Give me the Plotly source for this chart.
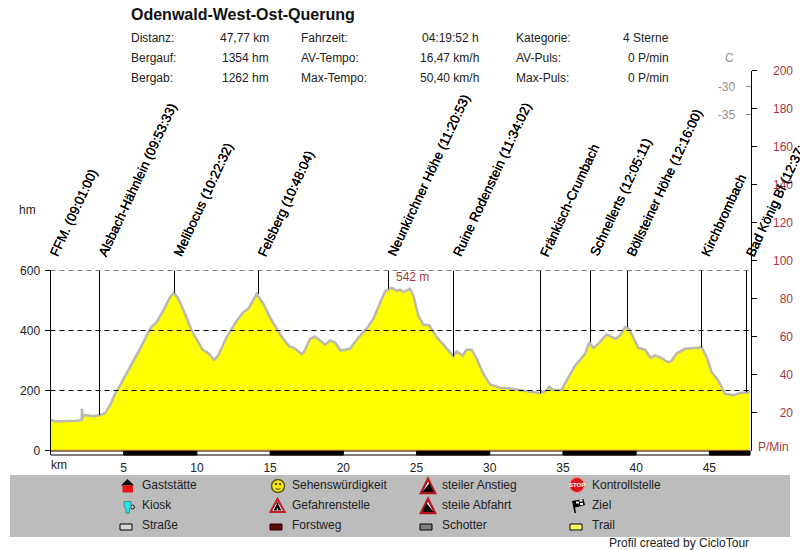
import plotly.graph_objects as go

FONT = "Liberation Sans"
TEXT = "#222222"
RED = "#a5373c"
GREY = "#8f8f8f"

title = "Odenwald-West-Ost-Querung"

# Trip summary: (label, value) per column, three rows each
stats_col1 = [("Distanz:", "47,77 km"), ("Bergauf:", "1354 hm"), ("Bergab:", "1262 hm")]
stats_col2 = [("Fahrzeit:", "04:19:52 h"), ("AV-Tempo:", "16,47 km/h"), ("Max-Tempo:", "50,40 km/h")]
stats_col3 = [("Kategorie:", "4 Sterne"), ("AV-Puls:", "0 P/min"), ("Max-Puls:", "0 P/min")]

# Elevation profile
profile_km = [
    0, 0.31, 1.79, 2.13, 2.15, 2.2, 2.36, 2.93, 3.38, 3.72, 4.06, 4.41, 4.75, 5.2, 5.66, 6.11,
    6.57, 6.91, 7.25, 7.71, 8.16, 8.44, 8.73, 9.19, 9.64, 9.98, 10.39, 10.78, 11.17, 11.46,
    12.03, 12.72, 13.17, 13.51, 14.08, 14.54, 14.99, 15.45, 15.9, 16.31, 16.63, 17.15, 17.31,
    17.72, 18.06, 18.41, 18.75, 19.09, 19.43, 19.82, 20.45, 21.02, 21.59, 22.05, 22.5, 22.85,
    23.3, 23.64, 23.87, 24.1, 24.55, 24.78, 25.12, 25.46, 25.87, 26.37, 26.94, 27.51, 27.74,
    28.15, 28.42, 28.77, 29.11, 29.56, 30.02, 30.7, 31.38, 32.52, 33.43, 33.89, 34.07, 34.34,
    34.91, 35.25, 35.82, 36.51, 36.8, 37.08, 37.42, 37.99, 38.56, 38.9, 39.24, 39.51, 40.15,
    40.6, 40.99, 41.29, 41.63, 42.2, 42.43, 42.77, 43.34, 43.91, 44.48, 44.82, 45.16, 45.61,
    46.07, 46.64, 47.09, 47.77,
]
profile_elev = [
    102, 97, 99, 102, 139, 111, 118, 114, 118, 124, 150, 189, 217, 257, 294, 339,
    383, 413, 428, 467, 511, 526, 506, 456, 400, 372, 336, 324, 302, 317,
    378, 433, 461, 472, 522, 489, 444, 406, 372, 347, 342, 322, 328,
    372, 380, 367, 353, 367, 361, 333, 339, 376, 406, 439, 489, 530,
    542, 533, 536, 528, 539, 517, 450, 420, 417, 378, 347, 314, 331,
    317, 336, 336, 306, 256, 220, 209, 207, 198, 191, 200, 213, 202,
    202, 233, 283, 322, 361, 342, 356, 387, 372, 383, 411, 406, 342,
    336, 309, 317, 311, 294, 300, 324, 339, 342, 344, 311, 261, 233,
    189, 184, 192, 194,
]

# Waypoints along the route
station_names = [
    "FFM. (09:01:00)", "Alsbach-Hähnlein (09:53:33)", "Melibocus (10:22:32)",
    "Felsberg (10:48:04)", "Neunkirchner Höhe (11:20:53)", "Ruine Rodenstein (11:34:02)",
    "Fränkisch-Crumbach", "Schnellerts (12:05:11)", "Böllsteiner Höhe (12:16:00)",
    "Kirchbrombach", "Bad König Bf (12:37:",
]
station_km = [0, 3.347, 8.469, 14.207, 23.086, 27.525, 33.467, 36.882, 39.409, 44.464, 47.537]
station_elev = [102, 118, 526, 522, 539, 314, 191, 361, 411, 344, 194]

# Surface strip under the profile (black sections on white)
surface_start = [5, 15, 25, 35, 45]
surface_end = [10, 20, 30, 40, 47.77]

elev_ticks = [0, 200, 400, 600]
grid_levels = [200, 400, 600]
km_ticks = [5, 10, 15, 20, 25, 30, 35, 40, 45]
pulse_ticks = [20, 40, 60, 80, 100, 120, 140, 160, 180, 200]
temp_ticks = [-30, -35]
temp_labels = ["-30", "-35"]

peak_label = "542 m"


def fx(px):
    return px / 800


def fy(py):
    return 1 - py / 550


def poly(points, fill, line=None, width=1):
    path = "M" + " L".join(f"{fx(x):.5f},{fy(y):.5f}" for x, y in points) + " Z"
    return dict(type="path", xref="paper", yref="paper", path=path, fillcolor=fill,
                line=dict(color=line or fill, width=width if line else 0), layer="above")


def rect(x0, y0, x1, y1, fill, line=None, width=1):
    return dict(type="rect", xref="paper", yref="paper", x0=fx(x0), x1=fx(x1), y0=fy(y0), y1=fy(y1),
                fillcolor=fill, line=dict(color=line or fill, width=width if line else 0), layer="above")


def circle(cx, cy, r, fill, line=None, width=1):
    return dict(type="circle", xref="paper", yref="paper", x0=fx(cx - r), x1=fx(cx + r),
                y0=fy(cy - r), y1=fy(cy + r), fillcolor=fill,
                line=dict(color=line or fill, width=width if line else 0), layer="above")


def label(px, py, text, size=12, color=TEXT, anchor="left", bold=False):
    return dict(xref="paper", yref="paper", x=fx(px), y=fy(py), text=f"<b>{text}</b>" if bold else text,
                showarrow=False, xanchor=anchor, yanchor="middle", borderpad=0,
                font=dict(family=FONT, size=size, color=color))


fig = go.Figure()

# Filled profile
fig.add_trace(go.Scatter(x=profile_km, y=profile_elev, mode="lines", fill="tozeroy",
                         fillcolor="#ffff00", line=dict(color="#b9b9ad", width=2.5),
                         hoverinfo="skip", showlegend=False))

# Horizontal guides run over the fill
for level in grid_levels:
    fig.add_trace(go.Scatter(x=[0, 47.81], y=[level, level], mode="lines",
                             line=dict(color="#000000", width=1, dash="5px,4px"),
                             hoverinfo="skip", showlegend=False))

# Waypoint drop lines from the top guide to the profile
for km, elev in zip(station_km, station_elev):
    fig.add_trace(go.Scatter(x=[km, km], y=[600, elev], mode="lines",
                             line=dict(color="#000000", width=1),
                             hoverinfo="skip", showlegend=False))

# Empty traces keep the secondary axes on the page
for axis in ("y2", "y3", "y4"):
    fig.add_trace(go.Scatter(x=[None], y=[None], yaxis=axis, hoverinfo="skip", showlegend=False))

shapes = []
# Surface strip
shapes.append(dict(type="rect", xref="x", yref="paper", x0=0, x1=47.81, y0=fy(455), y1=fy(451),
                   fillcolor="#ffffff", line=dict(color="#000000", width=1), layer="above"))
for a, b in zip(surface_start, surface_end):
    shapes.append(dict(type="rect", xref="x", yref="paper", x0=a, x1=b, y0=fy(455), y1=fy(451),
                       fillcolor="#000000", line=dict(color="#000000", width=1), layer="above"))
# Base line of the profile and the extended left axis
shapes.append(dict(type="line", xref="x", yref="y", x0=0, x1=47.81, y0=0, y1=0,
                   line=dict(color="#d9730d", width=1.5), layer="above"))
shapes.append(dict(type="line", xref="paper", yref="paper", x0=fx(50.5), x1=fx(50.5), y0=fy(270), y1=fy(455),
                   line=dict(color="#000000", width=1), layer="above"))

# Legend panel
shapes.append(rect(10, 475, 790, 537, "#bcbcbc"))
# Gaststätte
shapes.append(poly([(121, 485.5), (127.5, 479), (134, 485.5)], "#000000"))
shapes.append(rect(122.5, 485.5, 133, 492.5, "#ee1111"))
# Kiosk
shapes.append(circle(132.5, 507, 2, "#bcbcbc", "#222222", 1))
shapes.append(poly([(124, 501.5), (131, 501.5), (131, 507), (129.5, 508.5), (129.5, 513), (126, 513), (126, 508.5), (124, 507)],
                   "#2fe0e8", "#2f6f74", 0.7))
# Sehenswürdigkeit
shapes.append(circle(278, 486, 6.5, "#f5e61c", "#5c5c10", 1.5))
shapes.append(circle(276, 484, 0.9, "#000000"))
shapes.append(circle(280, 484, 0.9, "#000000"))
shapes.append(poly([(274.5, 487.5), (276.5, 489.5), (279.5, 489.5), (281.5, 487.5), (279.5, 488.7), (276.5, 488.7)], "#000000"))
# Warning triangles
shapes.append(poly([(270.5, 512), (277.5, 499), (284.5, 512)], "#ffffff", "#c8202a", 2.2))
shapes.append(rect(276.6, 502.5, 278.4, 508, "#000000"))
shapes.append(poly([(273.5, 510.5), (276.5, 505), (278.5, 505), (281.5, 510.5)], "#000000"))
shapes.append(rect(276.9, 508.5, 278.1, 510.5, "#ffffff"))
for tx, ty, top_x in [(428, 486, 1), (428, 506, -1)]:
    shapes.append(poly([(tx - 7, ty + 7), (tx, ty - 7), (tx + 7, ty + 7)], "#ffffff", "#b5141f", 2.4))
    shapes.append(poly([(tx - 5.5, ty + 6), (tx + top_x * 1.5, ty - 3), (tx + 5.5, ty + 6)], "#000000"))
# Kontrollstelle
shapes.append(circle(577, 485, 7.5, "#d8141c", "#f09090", 1.2))
# Ziel flag
shapes.append(poly([(572, 501), (574.5, 513), (576, 513), (575, 507.5), (585, 505), (583.5, 499)], "#000000"))
shapes.append(rect(576, 501.5, 579, 503.5, "#ffffff"))
shapes.append(rect(579.5, 499.5, 582.5, 501.5, "#ffffff"))
shapes.append(rect(580, 503, 583, 505, "#ffffff"))
# Surface swatches
for sx, fill, edge in [(126, "#d4d4d4", "#000000"), (276, "#5a0c0c", "#3a0000"),
                       (426, "#808080", "#000000"), (576, "#ffff66", "#000000")]:
    shapes.append(rect(sx - 6, 524, sx + 6, 530, fill, edge, 1))

annotations = [label(130, 14, title, size=16, color="#111111", bold=True)]

# Summary table
for col, label_x, value_x in [(stats_col1, 130, 270), (stats_col2, 300, 480), (stats_col3, 515, 670)]:
    for row_y, (name, value) in zip((38, 58, 78), col):
        annotations.append(label(label_x, row_y, name, size=12))
        annotations.append(label(value_x, row_y, value, size=12, anchor="right"))

annotations.append(label(18, 210, "hm", size=12))
annotations.append(label(50, 465, "km", size=12))
annotations.append(label(735, 58, "C", size=12, color=GREY, anchor="right"))
annotations.append(label(757, 447, "P/Min", size=12, color=RED))
annotations.append(dict(x=23.53, y=578, xref="x", yref="y", text=peak_label, showarrow=False,
                        xanchor="left", yanchor="middle", borderpad=0,
                        font=dict(family=FONT, size=12, color=RED)))
annotations.append(label(750, 543, "Profil created by CicloTour", size=12, anchor="right"))

# Slanted waypoint names
for name, km in zip(station_names, station_km):
    annotations.append(dict(x=km, y=fy(260), xref="x", yref="paper", text=name, showarrow=False,
                            textangle=-65, xanchor="left", yanchor="bottom", xshift=-5, borderpad=0,
                            font=dict(family=FONT, size=13.2, color="#000000",
                                      shadow="0.3px 0 0.3px #000000")))

# Legend captions
legend_rows = [
    (141, ["Gaststätte", "Kiosk", "Straße"]),
    (291, ["Sehenswürdigkeit", "Gefahrenstelle", "Forstweg"]),
    (441, ["steiler Anstieg", "steile Abfahrt", "Schotter"]),
    (591, ["Kontrollstelle", "Ziel", "Trail"]),
]
for x_pos, names in legend_rows:
    for row_y, name in zip((485, 505, 525), names):
        annotations.append(label(x_pos, row_y, name, size=12))
annotations.append(label(577, 485, "STOP", size=6, color="#ffffff", anchor="center", bold=True))

tick_font = dict(family=FONT, size=12, color=TEXT)
fig.update_layout(
    width=800, height=550, autosize=False,
    margin=dict(l=0, r=0, t=0, b=0, pad=0, autoexpand=False),
    paper_bgcolor="#ffffff", plot_bgcolor="rgba(0,0,0,0)",
    showlegend=False, shapes=shapes, annotations=annotations,
    xaxis=dict(domain=[fx(50.5), fx(750.5)], range=[0, 47.81], tickvals=km_ticks, ticks="",
               showgrid=False, zeroline=False, showline=False, ticklabelstandoff=8,
               tickfont=tick_font, anchor="y"),
    yaxis=dict(domain=[fy(450.5), fy(270.5)], range=[0, 600], tickvals=elev_ticks, ticks="outside",
               ticklen=5, tickcolor="#000000", showgrid=False, zeroline=False, showline=False,
               tickfont=tick_font, ticklabelstandoff=2),
    yaxis2=dict(domain=[fy(450.5), fy(70.5)], range=[0, 200], anchor="free",
                position=fx(750.5), side="right", tickvals=pulse_ticks, ticks="outside", ticklen=5,
                showticklabels=False, showline=True, linecolor="#000000", linewidth=1,
                tickcolor="#000000", showgrid=False, zeroline=False),
    yaxis3=dict(domain=[fy(450.5), fy(70.5)], range=[0, 200], overlaying="y2", anchor="free",
                position=fx(793), side="left", tickvals=pulse_ticks, ticks="", showline=False,
                showgrid=False, zeroline=False, tickfont=dict(family=FONT, size=12, color=RED)),
    yaxis4=dict(domain=[fy(450.5), fy(70.5)], range=[-93.86, -27.2], overlaying="y2", anchor="free",
                position=fx(750.5), side="left", tickvals=temp_ticks, ticktext=temp_labels,
                ticks="outside", ticklen=5,
                tickcolor=GREY, showline=False, showgrid=False, zeroline=False,
                ticklabelstandoff=8, tickfont=dict(family=FONT, size=12, color=GREY)),
)

fig.write_html("out.html")
